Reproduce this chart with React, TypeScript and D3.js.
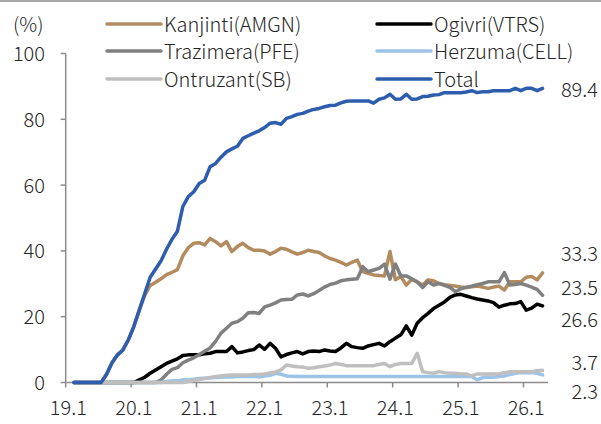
import React from 'react';
import * as d3 from 'd3';

// month index 0 = 19.1, series start at 19.2 (index 1) and end at 26.4 (index 87)
const startMonth = 1;

const kanjinti = [
  0, 0, 0, 0, 0, 0, 2.5, 6, 8.4, 9.9, 13, 17, 22, 26.5, 29.5, 30.5, 31.5, 32.8, 33.5, 34.3,
  38.5, 41, 42.3, 42.5, 41.8, 43.8, 42.8, 41.5, 42.8, 39.8, 41.3, 42.3, 41, 40.2, 40.2, 40, 39, 39.8, 40.8, 40.5,
  39.7, 39, 39.5, 40.2, 39.8, 39.5, 38.5, 37.7, 37.2, 36.5, 35.7, 36.5, 37.2, 33.7, 33.2, 32.7, 32.5, 32.4, 39.8, 31.2,
  32.2, 29.6, 31.4, 30.5, 29.6, 31.2, 30.9, 30.1, 29.7, 29.5, 29.3, 29, 28.9, 29.1, 29.3, 29, 28.6, 29, 29.3, 28.1,
  30.6, 30.6, 30.6, 32, 32.2, 31.2, 33.3,
];

const ogivri = [
  0, 0, 0, 0, 0, 0, 0, 0, 0, 0, 0, 0, 0.8, 1.6, 2.8, 3.8, 4.8, 5.8, 6.5, 7.2,
  8.2, 8.4, 8.4, 8.4, 8.7, 8.9, 9.4, 9.4, 9.4, 10.9, 9, 9.3, 9.7, 10, 11.4, 10.1, 11.9, 10.4, 7.8, 8.5,
  9, 9.4, 8.7, 9.4, 9.6, 9.4, 9.9, 9.6, 9.4, 10.5, 11.9, 10.9, 10.6, 10.4, 11.1, 11.5, 11.9, 11.1, 12.4, 13.5,
  14.5, 17.2, 14.4, 18, 19.7, 21, 22.5, 23.5, 24.5, 25.9, 26.6, 26.8, 26.3, 25.8, 25.4, 25.1, 24.8, 24.3, 22.9, 23.5,
  23.9, 24, 24.6, 22, 22.6, 23.8, 23.3,
];

const trazimera = [
  0, 0, 0, 0, 0, 0, 0, 0, 0, 0, 0, 0, 0, 0, 0, 0, 0.8, 2.5, 4, 4.5,
  6, 6.8, 7.5, 8.5, 9.5, 10.5, 12.5, 15, 16.5, 18, 18.5, 19.5, 21.2, 21.3, 21, 23, 23.5, 24.2, 25.1, 25.2,
  25.3, 26.6, 26.9, 26.3, 27, 28, 29, 29.8, 30.2, 30.9, 31.2, 31.4, 31.5, 35.2, 33.7, 34.2, 34.7, 36, 31.4, 36,
  32.4, 32.4, 31.5, 30.6, 28.9, 30.6, 29.6, 30.1, 29.5, 28.9, 27.6, 28.5, 28.9, 29.3, 29.7, 30.1, 30.6, 30.6, 30.6, 33.4,
  29.6, 29.8, 30.1, 29.6, 29, 28.3, 26.5,
];

const herzuma = [
  0, 0, 0, 0, 0, 0, 0, 0, 0, 0, 0, 0, 0, 0, 0, 0, 0, 0.3, 0.5, 0.5,
  0.8, 0.8, 1, 1.2, 1.3, 1.4, 1.5, 1.6, 1.7, 1.7, 1.8, 1.8, 1.8, 1.9, 1.7, 2, 2.2, 2.8, 2.5, 2,
  1.9, 1.8, 1.8, 1.8, 1.8, 1.8, 1.8, 1.8, 1.8, 1.8, 1.8, 1.8, 1.8, 1.8, 1.8, 1.8, 1.8, 1.8, 1.8, 1.8,
  1.8, 1.8, 1.8, 1.8, 1.8, 1.8, 1.8, 1.8, 1.8, 1.8, 1.8, 1.8, 1.8, 1.8, 0.8, 1.5, 1.6, 1.6, 1.8, 2,
  2.4, 2.8, 3, 3, 3, 2.8, 2.3,
];

const ontruzant = [
  0, 0, 0, 0, 0, 0, 0, 0, 0, 0, 0, 0, 0, 0, 0, 0, 0, 0, 0, 0,
  0, 0.3, 0.6, 0.9, 1.2, 1.5, 1.8, 2, 2.2, 2.3, 2.3, 2.3, 2.3, 2.4, 2.4, 2.6, 2.9, 3.2, 3.8, 5.3,
  5, 4.8, 4.7, 4.3, 4.5, 4.8, 5, 5.3, 5.8, 5.5, 5.1, 5.1, 5.1, 5.1, 5.1, 5.1, 5.5, 5.8, 4.8, 5.5,
  5.8, 5.8, 5.8, 8.9, 3.3, 3, 2.8, 3.3, 3, 2.8, 2.8, 2.6, 2.6, 2, 2.6, 2.6, 2.6, 2.6, 2.6, 3,
  3.3, 3.3, 3.3, 3.3, 3.3, 3.6, 3.7,
];

const total = [
  0, 0, 0, 0, 0, 0, 2.5, 6, 8.4, 9.9, 13, 17, 22, 27, 32, 34.5, 37, 40.5, 43.5, 46,
  53.5, 56.5, 58, 60.5, 61.5, 65.6, 66.6, 68.5, 70.1, 71, 71.8, 74.2, 75, 75.8, 76.5, 77.5, 78.8, 79, 78.5, 80.3,
  80.8, 81.5, 81.8, 82.5, 83, 83.3, 83.8, 84.2, 84.3, 85, 85.5, 85.6, 85.6, 85.6, 85.6, 84.9, 86.1, 86.5, 87.6, 86.1,
  86.2, 87.6, 86.1, 86.2, 86.9, 87, 87.4, 87.5, 88.1, 88.1, 88.1, 88.1, 88.3, 88.7, 88.1, 88.4, 88.4, 88.7, 88.7, 88.7,
  88.7, 89.4, 88.7, 89.4, 89.4, 88.7, 89.4,
];

const seriesNames = ['Kanjinti(AMGN)', 'Ogivri(VTRS)', 'Trazimera(PFE)', 'Herzuma(CELL)', 'Ontruzant(SB)', 'Total'];
const seriesValues = [kanjinti, ogivri, trazimera, herzuma, ontruzant, total];
const seriesColors = ['#b28b5e', '#000000', '#808080', '#9dc3e6', '#bfbfbf', '#2e5dae'];

const xTickLabels = ['19.1', '20.1', '21.1', '22.1', '23.1', '24.1', '25.1', '26.1'];
const yTicks = [0, 20, 40, 60, 80, 100];

// end labels: text and the value level where each is placed
const endLabelTexts = ['89.4', '33.3', '23.5', '26.6', '3.7', '2.3'];
const endLabelLevels = [89.5, 39.4, 29.3, 19.6, 6.5, -2.3];

const font = '"Noto Sans CJK KR", "Noto Sans", sans-serif';
const textColor = '#262626';
const axisColor = '#8c8c8c';

export default function App() {
  const width = 601;
  const height = 424;

  const x = d3.scaleLinear().domain([-0.5, 88]).range([65.7, 548]);
  const y = d3.scaleLinear().domain([0, 100]).range([382.5, 53.5]);

  const line = d3
    .line<number>()
    .x((_, i) => x(startMonth + i))
    .y((d) => y(d));

  const legendCols = [107, 377];
  const legendRows = [24, 51, 79];

  return (
    <svg
      width={width}
      height={height}
      style={{ position: 'absolute', left: 0, top: 0, background: '#fff' }}
      fontFamily={font}
    >
      <rect x={0} y={0} width={width} height={2} fill="#a6a6a6" />

      {/* y axis */}
      <line x1={x(-0.5)} x2={x(-0.5)} y1={y(100)} y2={y(0)} stroke={axisColor} strokeWidth={1.5} />
      {yTicks.map((t) => (
        <g key={t}>
          <line x1={x(-0.5) - 5} x2={x(-0.5)} y1={y(t)} y2={y(t)} stroke={axisColor} strokeWidth={1.5} />
          <text
            x={45}
            y={y(t) - 1}
            textAnchor="end"
            dominantBaseline="central"
            fontSize={20}
            fontWeight={300}
            fill={textColor}
          >
            {t}
          </text>
        </g>
      ))}
      <text x={13} y={23} dominantBaseline="central" fontSize={20} fontWeight={300} fill={textColor}>
        (%)
      </text>

      {/* x axis */}
      <line x1={x(-0.5)} x2={x(88)} y1={y(0)} y2={y(0)} stroke={axisColor} strokeWidth={1.5} />
      {xTickLabels.map((lab, k) => (
        <g key={lab}>
          <line
            x1={x(12 * k - 0.5)}
            x2={x(12 * k - 0.5)}
            y1={y(0)}
            y2={y(0) + 5}
            stroke={axisColor}
            strokeWidth={1.5}
          />
          <text
            x={x(12 * k)}
            y={406}
            textAnchor="middle"
            dominantBaseline="central"
            fontSize={20}
            fontWeight={300}
            fill={textColor}
          >
            {lab}
          </text>
        </g>
      ))}

      {/* series */}
      {seriesValues.map((vals, i) => (
        <path
          key={seriesNames[i]}
          d={line(vals) || ''}
          fill="none"
          stroke={seriesColors[i]}
          strokeWidth={3.5}
          strokeLinejoin="round"
          strokeLinecap="round"
        />
      ))}

      {/* legend */}
      {seriesNames.map((name, i) => {
        const lx = legendCols[i % 2];
        const ly = legendRows[Math.floor(i / 2)];
        return (
          <g key={name}>
            <line x1={lx} x2={lx + 54} y1={ly} y2={ly} stroke={seriesColors[i]} strokeWidth={3.5} strokeLinecap="round" />
            <text
              x={lx + 57}
              y={ly - 1}
              dominantBaseline="central"
              fontSize={20}
              fontWeight={300}
              fill={textColor}
            >
              {name}
            </text>
          </g>
        );
      })}

      {/* end labels */}
      {endLabelTexts.map((t, i) => (
        <text
          key={t}
          x={598}
          y={y(endLabelLevels[i])}
          textAnchor="end"
          dominantBaseline="central"
          fontSize={20}
          fontWeight={300}
          fill={textColor}
        >
          {t}
        </text>
      ))}
    </svg>
  );
}
